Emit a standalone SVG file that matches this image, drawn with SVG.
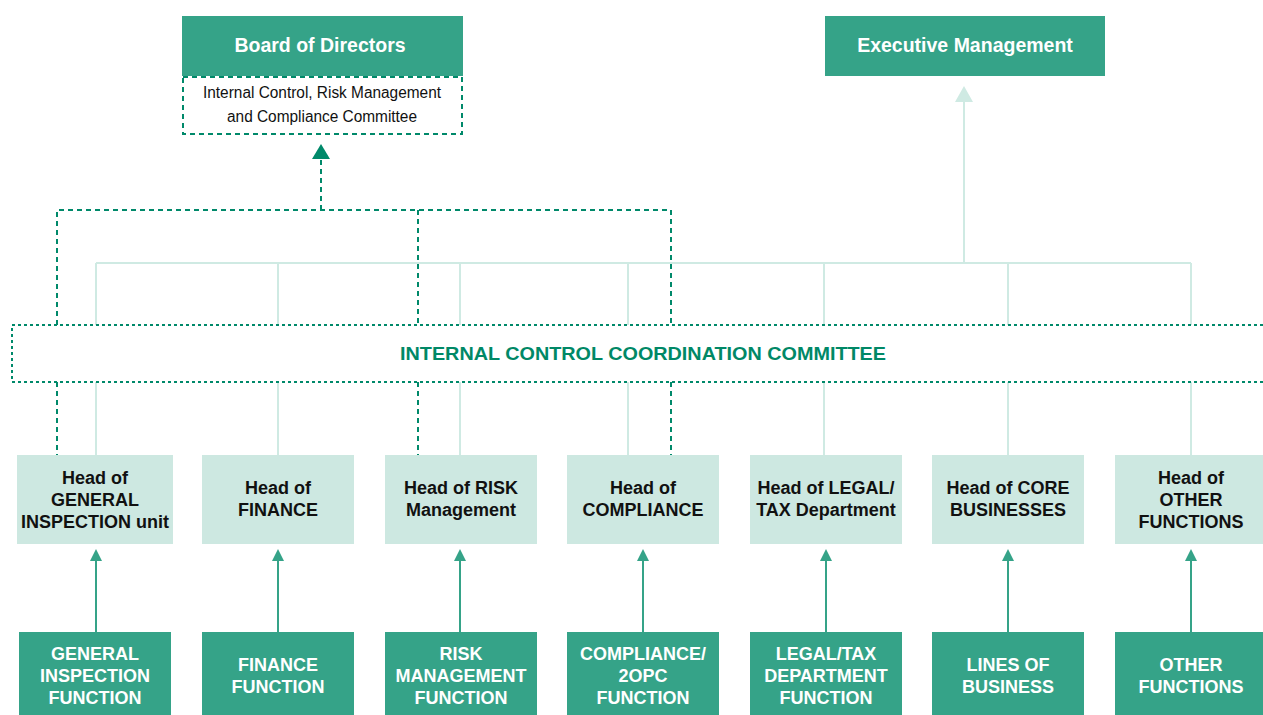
<svg xmlns="http://www.w3.org/2000/svg" width="1263" height="715" viewBox="0 0 1263 715">
<defs>
<style>
.dark{fill:#35A388}
.light{fill:#CDE8E1}
.wt{fill:#fff;font-family:"Liberation Sans",Arial,sans-serif;font-weight:bold;font-size:18px;text-anchor:middle}
.bt{fill:#111;font-family:"Liberation Sans",Arial,sans-serif;font-weight:bold;font-size:18px;text-anchor:middle}
.top{fill:#fff;font-family:"Liberation Sans",Arial,sans-serif;font-weight:bold;font-size:19.5px;text-anchor:middle}
.ct{fill:#111;font-family:"Liberation Sans",Arial,sans-serif;font-size:16px;text-anchor:middle}
.dash{fill:none;stroke:#00896A;stroke-width:2;stroke-dasharray:5 4}
.dot{fill:none;stroke:#00896A;stroke-width:2;stroke-dasharray:3 3}
.ll{fill:none;stroke:#CFEAE3;stroke-width:2}
.ar{fill:none;stroke:#35A388;stroke-width:2}
</style>
</defs>
<g id="connectors">
<path class="ll" d="M96,263 H1191 M964,263 V100"/>
<path d="M955,102 L964,86 L973,102 Z" fill="#CFEAE3"/>
<path class="ll" d="M96,263 V325 M278,263 V325 M460,263 V325 M628,263 V325 M824,263 V325 M1008,263 V325 M1191,263 V325"/>
<path class="ll" d="M96,382 V455 M278,382 V455 M460,382 V455 M628,382 V455 M824,382 V455 M1008,382 V455 M1191,382 V455"/>
<path class="dash" d="M57,325 V210 H671 V325 M418,210 V325 M321,210 V158"/>
<path d="M312,159 L321,144 L330,159 Z" fill="#00896A"/>
<path class="dash" d="M57,382 V455 M418,382 V455 M671,382 V455"/>
<path class="ar" d="M96,632 V560 M278,632 V560 M460,632 V560 M643,632 V560 M826,632 V560 M1008,632 V560 M1191,632 V560"/>
<g fill="#35A388">
<path d="M90,561 L96,549 L102,561 Z"/>
<path d="M272,561 L278,549 L284,561 Z"/>
<path d="M454,561 L460,549 L466,561 Z"/>
<path d="M637,561 L643,549 L649,561 Z"/>
<path d="M820,561 L826,549 L832,561 Z"/>
<path d="M1002,561 L1008,549 L1014,561 Z"/>
<path d="M1185,561 L1191,549 L1197,561 Z"/>
</g>
</g>
<g id="board">
<rect class="dark" x="182" y="16" width="281" height="60"/>
<text class="top" x="320" y="52">Board of Directors</text>
</g>
<g id="icrmcc">
<rect class="dash" x="183" y="77" width="279" height="57"/>
<text class="ct" x="322" y="98" textLength="238" lengthAdjust="spacingAndGlyphs">Internal Control, Risk Management</text>
<text class="ct" x="322" y="122" textLength="190" lengthAdjust="spacingAndGlyphs">and Compliance Committee</text>
</g>
<g id="exec">
<rect class="dark" x="825" y="16" width="280" height="60"/>
<text class="top" x="965" y="52">Executive Management</text>
</g>
<g id="iccc">
<path class="dot" d="M1263,325 H12 V382 H1263"/>
<text x="643" y="360" fill="#008866" font-family="'Liberation Sans',Arial,sans-serif" font-weight="bold" font-size="18" text-anchor="middle" textLength="486" lengthAdjust="spacingAndGlyphs">INTERNAL CONTROL COORDINATION COMMITTEE</text>
</g>
<g id="head-gi"><rect class="light" x="17" y="455" width="156" height="89"/>
<text class="bt" x="95" y="484">Head of</text><text class="bt" x="95" y="506">GENERAL</text><text class="bt" x="95" y="528">INSPECTION unit</text></g>
<g id="head-fin"><rect class="light" x="202" y="455" width="152" height="89"/>
<text class="bt" x="278" y="494">Head of</text><text class="bt" x="278" y="516">FINANCE</text></g>
<g id="head-risk"><rect class="light" x="385" y="455" width="152" height="89"/>
<text class="bt" x="461" y="494">Head of RISK</text><text class="bt" x="461" y="516">Management</text></g>
<g id="head-comp"><rect class="light" x="567" y="455" width="152" height="89"/>
<text class="bt" x="643" y="494">Head of</text><text class="bt" x="643" y="516">COMPLIANCE</text></g>
<g id="head-legal"><rect class="light" x="750" y="455" width="152" height="89"/>
<text class="bt" x="826" y="494">Head of LEGAL/</text><text class="bt" x="826" y="516">TAX Department</text></g>
<g id="head-core"><rect class="light" x="932" y="455" width="152" height="89"/>
<text class="bt" x="1008" y="494">Head of CORE</text><text class="bt" x="1008" y="516">BUSINESSES</text></g>
<g id="head-other"><rect class="light" x="1115" y="455" width="152" height="89"/>
<text class="bt" x="1191" y="484">Head of</text><text class="bt" x="1191" y="506">OTHER</text><text class="bt" x="1191" y="528">FUNCTIONS</text></g>
<g id="fn-gi"><rect class="dark" x="19" y="632" width="152" height="83"/>
<text class="wt" x="95" y="660">GENERAL</text><text class="wt" x="95" y="682">INSPECTION</text><text class="wt" x="95" y="704">FUNCTION</text></g>
<g id="fn-fin"><rect class="dark" x="202" y="632" width="152" height="83"/>
<text class="wt" x="278" y="671">FINANCE</text><text class="wt" x="278" y="693">FUNCTION</text></g>
<g id="fn-risk"><rect class="dark" x="385" y="632" width="152" height="83"/>
<text class="wt" x="461" y="660">RISK</text><text class="wt" x="461" y="682">MANAGEMENT</text><text class="wt" x="461" y="704">FUNCTION</text></g>
<g id="fn-comp"><rect class="dark" x="567" y="632" width="152" height="83"/>
<text class="wt" x="643" y="660">COMPLIANCE/</text><text class="wt" x="643" y="682">2OPC</text><text class="wt" x="643" y="704">FUNCTION</text></g>
<g id="fn-legal"><rect class="dark" x="750" y="632" width="152" height="83"/>
<text class="wt" x="826" y="660">LEGAL/TAX</text><text class="wt" x="826" y="682">DEPARTMENT</text><text class="wt" x="826" y="704">FUNCTION</text></g>
<g id="fn-lob"><rect class="dark" x="932" y="632" width="152" height="83"/>
<text class="wt" x="1008" y="671">LINES OF</text><text class="wt" x="1008" y="693">BUSINESS</text></g>
<g id="fn-other"><rect class="dark" x="1115" y="632" width="152" height="83"/>
<text class="wt" x="1191" y="671">OTHER</text><text class="wt" x="1191" y="693">FUNCTIONS</text></g>
</svg>
